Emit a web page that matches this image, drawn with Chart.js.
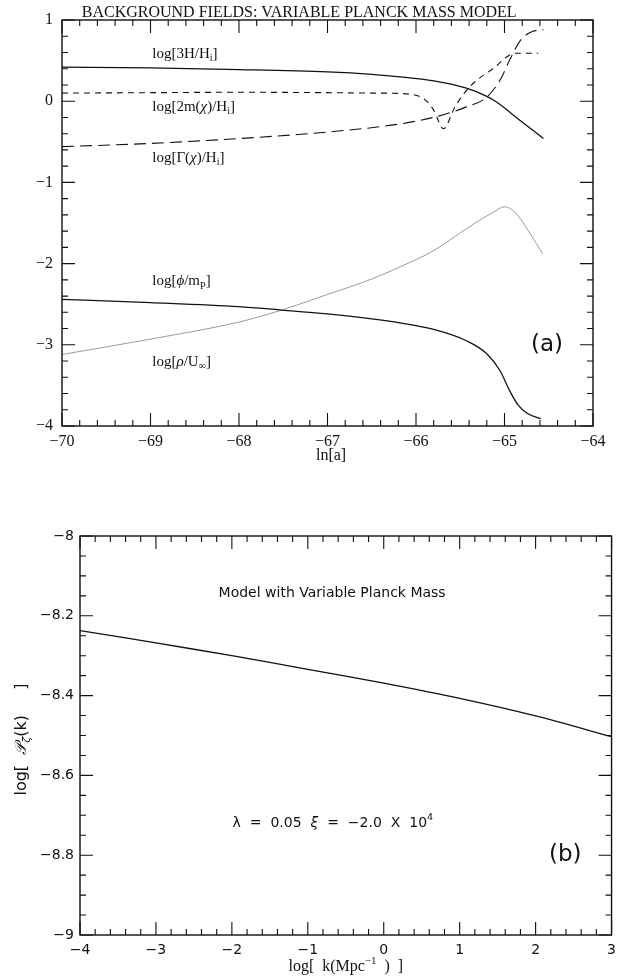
<!DOCTYPE html>
<html>
<head>
<meta charset="utf-8">
<script src="https://cdn.jsdelivr.net/npm/chart.js@4.4.0/dist/chart.umd.min.js"></script>
<style>
  body { margin: 0; background: #fff; width: 623px; height: 979px; overflow: hidden; position: relative; }
  canvas { position: absolute; left: 0; }
  #top { top: 0; }
  #bottom { top: 480px; }
</style>
</head>
<body>
<canvas id="top" width="623" height="475"></canvas>
<canvas id="bottom" width="623" height="499"></canvas>
<script>
// panel (a): background fields vs ln[a]
const xHubble = [-70, -69, -68, -67, -66.5, -66.18, -65.8, -65.43, -65.2, -65.09, -64.82, -64.56];
const yHubble = [0.42, 0.41, 0.39, 0.36, 0.33, 0.30, 0.25, 0.16, 0.06, -0.01, -0.24, -0.46];

const xMass = [-70, -69, -68, -67, -66.5, -66.18, -65.9, -65.8, -65.69, -65.56, -65.39, -65.13, -64.88, -64.75, -64.62];
const yMass = [0.10, 0.105, 0.11, 0.105, 0.10, 0.095, 0.02, -0.11, -0.34, -0.07, 0.18, 0.40, 0.59, 0.59, 0.59];

const xDecay = [-70, -69, -68, -67, -66.18, -65.77, -65.43, -65.2, -65.05, -64.94, -64.82, -64.68, -64.56];
const yDecay = [-0.56, -0.52, -0.46, -0.38, -0.28, -0.19, -0.07, 0.05, 0.26, 0.51, 0.75, 0.86, 0.88];

const xPhi = [-70, -69, -68, -67.54, -67, -66.5, -66.18, -65.8, -65.43, -65.2, -65.05, -64.94, -64.84, -64.75, -64.59];
const yPhi = [-2.44, -2.48, -2.53, -2.57, -2.62, -2.68, -2.73, -2.81, -2.95, -3.11, -3.32, -3.57, -3.75, -3.84, -3.91];

const xRho = [-70, -69, -68, -67.54, -67, -66.5, -66.18, -65.8, -65.43, -65.13, -65.0, -64.88, -64.71, -64.57];
const yRho = [-3.12, -2.93, -2.72, -2.58, -2.38, -2.19, -2.04, -1.84, -1.57, -1.37, -1.30, -1.37, -1.63, -1.88];

// panel (b): spectrum vs log k
const logK = [-4, -3, -2, -1, 0, 1, 2, 3];
const logP = [-8.237, -8.268, -8.300, -8.334, -8.369, -8.407, -8.451, -8.503];

const SERIF = "'Liberation Serif', 'DejaVu Serif', serif";
const SANS = "'DejaVu Sans', sans-serif";

function pts(xs, ys) {
  return xs.map((x, i) => ({ x: x, y: ys[i] }));
}

function fmt(v) {
  const r = Math.round(v * 10) / 10;
  const s = Number.isInteger(r) ? String(r) : r.toFixed(1);
  return s.replace('-', '\u2212');
}

// text made of pieces: [text, 'sub'|'sup'|'', 'i' for italic]
function drawRich(ctx, segs, x, y, size, family, align, rot) {
  ctx.save();
  ctx.translate(x, y);
  if (rot) ctx.rotate(rot);
  const parts = segs.map(([t, m = '', st = '']) => {
    const s = m ? size * 0.68 : size;
    const font = (st === 'i' ? 'italic ' : '') + s + 'px ' + family;
    ctx.font = font;
    return { t, m, font, w: ctx.measureText(t).width };
  });
  const total = parts.reduce((a, p) => a + p.w, 0);
  let cx = align === 'center' ? -total / 2 : align === 'right' ? -total : 0;
  ctx.textBaseline = 'middle';
  ctx.textAlign = 'left';
  ctx.fillStyle = '#111';
  parts.forEach(p => {
    ctx.font = p.font;
    const dy = p.m === 'sub' ? size * 0.3 : p.m === 'sup' ? -size * 0.38 : 0;
    ctx.fillText(p.t, cx, dy);
    cx += p.w;
  });
  ctx.restore();
}

function makeFrame(spec) {
  return {
    id: 'frame',
    afterDatasetsDraw(chart) {
      const { ctx, chartArea: a, scales: { x, y } } = chart;
      ctx.save();
      ctx.strokeStyle = '#111';
      ctx.lineWidth = 1.4;
      ctx.strokeRect(a.left, a.top, a.right - a.left, a.bottom - a.top);
      ctx.lineWidth = 1.1;
      ctx.beginPath();
      const nx = Math.round((x.max - x.min) / spec.xMinor);
      for (let i = 0; i <= nx; i++) {
        const px = x.getPixelForValue(x.min + i * spec.xMinor);
        const len = i % spec.xEvery === 0 ? spec.majorLen : spec.minorLen;
        ctx.moveTo(px, a.bottom); ctx.lineTo(px, a.bottom - len);
        ctx.moveTo(px, a.top); ctx.lineTo(px, a.top + len);
      }
      const ny = Math.round((y.max - y.min) / spec.yMinor);
      for (let i = 0; i <= ny; i++) {
        const py = y.getPixelForValue(y.min + i * spec.yMinor);
        const len = i % spec.yEvery === 0 ? spec.majorLen : spec.minorLen;
        ctx.moveTo(a.left, py); ctx.lineTo(a.left + len, py);
        ctx.moveTo(a.right, py); ctx.lineTo(a.right - len, py);
      }
      ctx.stroke();
      ctx.restore();
      spec.labels.forEach(l => {
        drawRich(ctx, l.segs, x.getPixelForValue(l.x), y.getPixelForValue(l.y),
          l.size, l.family, l.align || 'left', l.rot);
      });
    }
  };
}

function line(xs, ys, opts) {
  return Object.assign({
    data: pts(xs, ys),
    showLine: true,
    pointRadius: 0,
    borderColor: '#111',
    borderWidth: 1.3,
    cubicInterpolationMode: 'monotone',
    fill: false
  }, opts);
}

function axis(min, max, step, family, size, pad, fit) {
  return {
    type: 'linear', min, max,
    grid: { display: false, drawTicks: false },
    border: { display: false },
    ticks: { stepSize: step, autoSkip: false, maxRotation: 0, padding: pad, color: '#111',
      font: { family, size }, callback: v => fmt(v) },
    afterFit: fit
  };
}

const labelsTop = [
  { segs: [['BACKGROUND FIELDS: VARIABLE PLANCK MASS MODEL']], x: -67.32, y: 1.09, size: 16, family: SERIF, align: 'center' },
  { segs: [['ln[a]']], x: -66.96, y: -4.37, size: 16, family: SERIF, align: 'center' },
  { segs: [['log[3H/H'], ['i', 'sub'], [']']], x: -68.98, y: 0.58, size: 15, family: SERIF },
  { segs: [['log[2m('], ['\u03c7', '', 'i'], [')/H'], ['i', 'sub'], [']']], x: -68.98, y: -0.07, size: 15, family: SERIF },
  { segs: [['log[\u0393('], ['\u03c7', '', 'i'], [')/H'], ['i', 'sub'], [']']], x: -68.98, y: -0.70, size: 15, family: SERIF },
  { segs: [['log['], ['\u03d5', '', 'i'], ['/m'], ['P', 'sub'], [']']], x: -68.98, y: -2.22, size: 15, family: SERIF },
  { segs: [['log['], ['\u03c1', '', 'i'], ['/U'], ['\u221e', 'sub'], [']']], x: -68.98, y: -3.21, size: 15, family: SERIF },
  { segs: [['(a)']], x: -64.52, y: -3.0, size: 23, family: SANS, align: 'center' }
];

const labelsBottom = [
  { segs: [['Model with Variable Planck Mass']], x: -0.68, y: -8.145, size: 14, family: SANS, align: 'center' },
  { segs: [['\u03bb  =  0.05  '], ['\u03be', '', 'i'], ['  =  \u22122.0  X  10'], ['4', 'sup']], x: -0.67, y: -8.72, size: 14, family: SANS, align: 'center' },
  { segs: [['(b)']], x: 2.39, y: -8.8, size: 23, family: SANS, align: 'center' },
  { segs: [['log[  k(Mpc'], ['\u22121', 'sup'], ['  )  ]']], x: -0.5, y: -9.08, size: 16, family: SERIF, align: 'center' },
  { segs: [['log[  '], ['\ud835\udcab', '', 'i'], ['\u03b6', 'sub', 'i'], ['(k)     ]']], x: -4.76, y: -8.51, size: 16, family: SANS, align: 'center', rot: -Math.PI / 2 }
];

new Chart(document.getElementById('top'), {
  type: 'scatter',
  data: {
    datasets: [
      line(xHubble, yHubble, {}),
      line(xMass, yMass, { borderWidth: 1.1, borderDash: [6, 5] }),
      line(xDecay, yDecay, { borderWidth: 1.1, borderDash: [12, 6] }),
      line(xPhi, yPhi, {}),
      line(xRho, yRho, { borderColor: '#9a9a9a', borderWidth: 1 })
    ]
  },
  options: {
    responsive: false,
    animation: false,
    devicePixelRatio: 1,
    layout: { padding: { left: 0, right: 30, top: 20, bottom: 0 } },
    plugins: { legend: { display: false }, tooltip: { enabled: false } },
    scales: {
      x: axis(-70, -64, 1, SERIF, 16, 6, s => { s.height = 49; }),
      y: axis(-4, 1, 1, SERIF, 16, 9, s => { s.width = 62; })
    }
  },
  plugins: [makeFrame({ xMinor: 0.2, xEvery: 5, yMinor: 0.2, yEvery: 5, majorLen: 13, minorLen: 6, labels: labelsTop })]
});

new Chart(document.getElementById('bottom'), {
  type: 'scatter',
  data: {
    datasets: [line(logK, logP, { cubicInterpolationMode: 'default', tension: 0.3 })]
  },
  options: {
    responsive: false,
    animation: false,
    devicePixelRatio: 1,
    layout: { padding: { left: 0, right: 11, top: 56, bottom: 0 } },
    plugins: { legend: { display: false }, tooltip: { enabled: false } },
    scales: {
      x: axis(-4, 3, 1, SANS, 14, 7, s => { s.height = 44; }),
      y: axis(-9, -8, 0.2, SANS, 14, 6, s => { s.width = 80; })
    }
  },
  plugins: [makeFrame({ xMinor: 0.2, xEvery: 5, yMinor: 0.05, yEvery: 4, majorLen: 13, minorLen: 6, labels: labelsBottom })]
});
</script>
</body>
</html>
